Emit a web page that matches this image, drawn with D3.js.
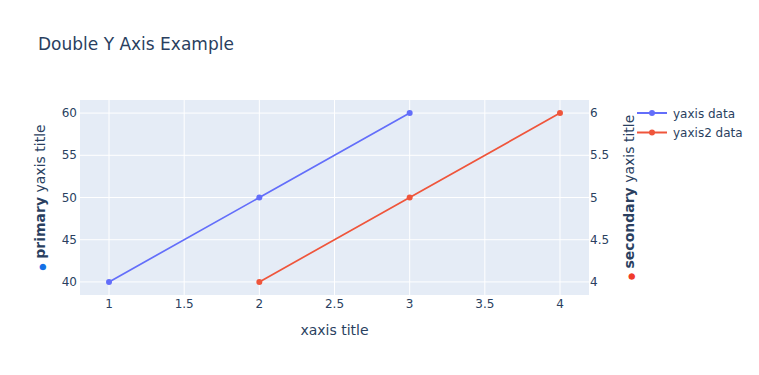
<!DOCTYPE html>
<html lang="en">
<head>
<meta charset="utf-8">
<title>Double Y Axis Example</title>
<script src="https://d3js.org/d3.v7.min.js"></script>
<style>
  body { margin: 0; background: #fff; }
  text { font-family: "DejaVu Sans", verdana, arial, sans-serif; fill: #2a3f5f; }
</style>
</head>
<body>
<svg width="759" height="375" id="svg"></svg>
<script>
// data
var xs1 = [1, 2, 3];
var ys1 = [40, 50, 60];
var xs2 = [2, 3, 4];
var ys2 = [4, 5, 6];
var seriesNames = ["yaxis data", "yaxis2 data"];
var xTicks = [1, 1.5, 2, 2.5, 3, 3.5, 4];
var y1Ticks = [40, 45, 50, 55, 60];
var y2Ticks = [4, 4.5, 5, 5.5, 6];

var colors = ["#636efa", "#EF553B"];
var svg = d3.select("#svg");

// plot area
var L = 80, T = 100, W = 509, H = 195;

var x = d3.scaleLinear().domain([0.807, 4.193]).range([L, L + W]);
var y1 = d3.scaleLinear().domain([38.45, 61.55]).range([T + H, T]);
var y2 = d3.scaleLinear().domain([3.845, 6.155]).range([T + H, T]);

svg.append("rect").attr("x", L).attr("y", T).attr("width", W).attr("height", H)
    .attr("fill", "#e5ecf6");

// grid
svg.selectAll(".gx").data(xTicks).enter().append("line")
    .attr("x1", d => x(d)).attr("x2", d => x(d))
    .attr("y1", T).attr("y2", T + H)
    .attr("stroke", "#fff").attr("stroke-width", 1);
svg.selectAll(".gy").data(y1Ticks).enter().append("line")
    .attr("x1", L).attr("x2", L + W)
    .attr("y1", d => y1(d)).attr("y2", d => y1(d))
    .attr("stroke", "#fff").attr("stroke-width", 1);

// tick labels
svg.selectAll(".tx").data(xTicks).enter().append("text")
    .attr("x", d => x(d)).attr("y", 308)
    .attr("text-anchor", "middle").attr("font-size", 12)
    .text(d => d);
svg.selectAll(".ty1").data(y1Ticks).enter().append("text")
    .attr("x", L - 3).attr("y", d => y1(d) + 4)
    .attr("text-anchor", "end").attr("font-size", 12)
    .text(d => d);
svg.selectAll(".ty2").data(y2Ticks).enter().append("text")
    .attr("x", L + W + 1).attr("y", d => y2(d) + 4)
    .attr("text-anchor", "start").attr("font-size", 12)
    .text(d => d);

// lines + markers
function drawSeries(xv, yv, ys, color) {
    var pts = xv.map((d, i) => [x(d), ys(yv[i])]);
    svg.append("path").attr("d", d3.line()(pts))
        .attr("fill", "none").attr("stroke", color).attr("stroke-width", 1.7);
    svg.selectAll(null).data(pts).enter().append("circle")
        .attr("cx", d => d[0]).attr("cy", d => d[1]).attr("r", 3)
        .attr("fill", color);
}
drawSeries(xs1, ys1, y1, colors[0]);
drawSeries(xs2, ys2, y2, colors[1]);

// title
svg.append("text").attr("x", 38).attr("y", 50).attr("font-size", 17)
    .text("Double Y Axis Example");

// x axis title
svg.append("text").attr("x", L + W / 2).attr("y", 335)
    .attr("text-anchor", "middle").attr("font-size", 14).text("xaxis title");

// y axis titles
function yTitle(px, dotColor, bold) {
    var t = svg.append("text")
        .attr("transform", "translate(" + px + "," + (T + H / 2) + ") rotate(-90)")
        .attr("text-anchor", "middle").attr("font-size", 14);
    t.append("tspan").attr("fill", dotColor).attr("font-size", 8.5).text("\u25CF");
    t.append("tspan").text("  ");
    t.append("tspan").attr("font-weight", "bold").text(bold);
    t.append("tspan").text(" yaxis title");
}
yTitle(45, "#1570e6", "primary");
yTitle(634, "#f03a2a", "secondary");

// legend
var leg = svg.selectAll(".leg").data(seriesNames).enter().append("g")
    .attr("transform", (d, i) => "translate(637," + (113 + i * 19.5) + ")");
leg.append("line").attr("x1", 0).attr("x2", 30)
    .attr("stroke", (d, i) => colors[i]).attr("stroke-width", 2);
leg.append("circle").attr("cx", 15).attr("r", 3).attr("fill", (d, i) => colors[i]);
leg.append("text").attr("x", 36).attr("y", 4.5).attr("font-size", 12).text(d => d);
</script>
</body>
</html>
